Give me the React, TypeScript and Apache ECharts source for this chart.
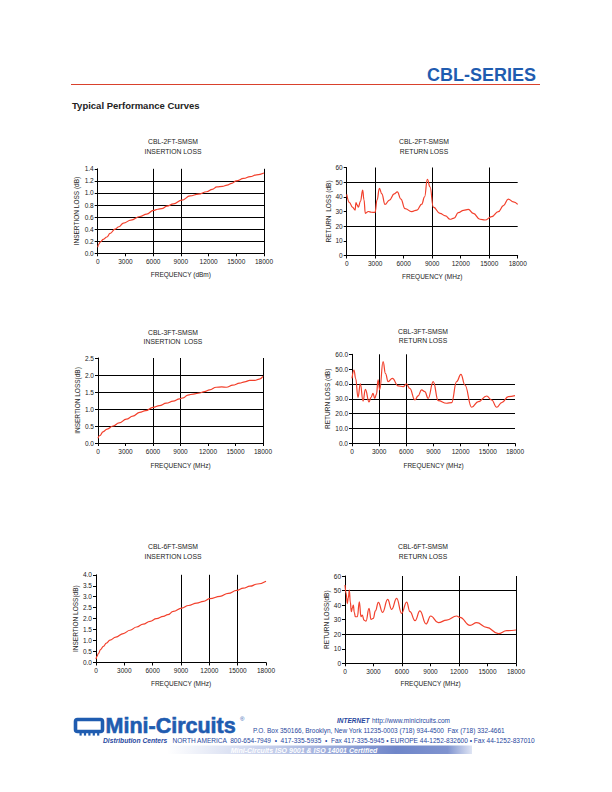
import React, { useEffect, useRef } from "react";
import * as echarts from "echarts";

const FONT = "'Liberation Sans', Arial, Helvetica, sans-serif";
const RED = "#f2402c";
const BLUE = "#1f5cb0";
const TXT = "#222";

// ---------- data ----------
// CBL-2FT insertion loss
const il2Freq = [0, 100, 300, 600, 1000, 1340, 1880, 2300, 2780, 3600, 4580, 5300, 6030, 6500, 6930, 7500, 8200, 9100, 10000, 10900, 11800, 12400, 12900, 13500, 14000, 14500, 15000, 15800, 16500, 17200, 18000];
const il2Loss = [0.10, 0.15, 0.19, 0.23, 0.27, 0.33, 0.40, 0.44, 0.50, 0.55, 0.61, 0.65, 0.71, 0.73, 0.74, 0.78, 0.82, 0.88, 0.95, 0.98, 1.02, 1.06, 1.10, 1.11, 1.13, 1.16, 1.20, 1.24, 1.27, 1.30, 1.33];

// CBL-2FT return loss
const rl2Freq = [0, 300, 600, 880, 980, 1100, 1230, 1450, 1680, 1820, 1960, 2280, 2600, 2980, 3200, 3440, 3700, 4030, 4500, 5000, 5330, 5700, 6140, 6840, 7400, 7900, 8200, 8490, 8770, 9120, 9820, 10400, 10880, 11300, 11750, 12300, 12800, 13330, 14030, 14560, 15260, 15960, 16500, 17000, 17540, 18000];
const rl2Loss = [41.6, 36, 33, 31, 36, 34.5, 33, 37, 44.6, 38, 28.7, 30, 29.5, 29.4, 38, 45.7, 42, 34.8, 37.8, 42, 43.4, 38.5, 32, 29.9, 31, 35, 40, 52, 46.8, 33, 28.7, 27, 24.7, 25.5, 29.2, 30.8, 31.4, 28.7, 24.7, 24.2, 26.5, 29.9, 34, 38.5, 36.6, 34.8];

// CBL-3FT insertion loss
const il3Freq = [0, 200, 545, 1000, 1640, 2300, 3090, 3800, 4545, 5200, 6000, 6700, 7450, 8200, 8900, 9300, 9800, 10400, 11090, 11600, 12180, 12900, 13500, 14000, 14700, 15450, 16000, 16550, 17100, 17600, 18000];
const il3Loss = [0.14, 0.22, 0.33, 0.41, 0.50, 0.59, 0.70, 0.79, 0.90, 0.95, 1.05, 1.10, 1.17, 1.23, 1.30, 1.33, 1.41, 1.44, 1.47, 1.51, 1.56, 1.64, 1.65, 1.64, 1.70, 1.76, 1.80, 1.84, 1.84, 1.88, 1.96];

// CBL-3FT return loss
const rl3Freq = [0, 220, 400, 660, 920, 1220, 1480, 1880, 2100, 2320, 2510, 2700, 2880, 3060, 3430, 3700, 3990, 4460, 5090, 5650, 6015, 6380, 6940, 7300, 7680, 8040, 8410, 8970, 9520, 10440, 11000, 11550, 12030, 12470, 13210, 13950, 14870, 15420, 15980, 16530, 17270, 18000];
const rl3Loss = [43.8, 49.4, 43.8, 31, 40, 28.5, 36.4, 27.9, 31, 33.7, 30.3, 33, 42.7, 36, 55, 47, 41.6, 43.8, 38.7, 38.2, 40, 37, 29.2, 32, 36, 34.8, 30.3, 41.6, 28.8, 27, 27.4, 41.6, 46.5, 39.3, 24.3, 28.1, 31.9, 29.2, 24.3, 27.4, 31.5, 32.1];

// CBL-6FT insertion loss
const il6Freq = [0, 100, 250, 500, 780, 1100, 1480, 2100, 2890, 3600, 4300, 5000, 5720, 6400, 7130, 7600, 8190, 9070, 9800, 10660, 11370, 12070, 13130, 14000, 14900, 15600, 16300, 17100, 18000];
const il6Loss = [0.15, 0.28, 0.41, 0.60, 0.74, 0.88, 1.02, 1.16, 1.32, 1.47, 1.62, 1.75, 1.88, 2.00, 2.10, 2.18, 2.33, 2.48, 2.60, 2.71, 2.79, 2.91, 3.02, 3.15, 3.29, 3.39, 3.48, 3.58, 3.71];

// CBL-6FT return loss
const rl6Freq = [0, 120, 245, 350, 456, 560, 667, 770, 877, 980, 1090, 1300, 1510, 1680, 1820, 2000, 2210, 2530, 2740, 2980, 3200, 3510, 3960, 4490, 4910, 5440, 5960, 6490, 6840, 7370, 7890, 8530, 9020, 9820, 10700, 11750, 12100, 13160, 13860, 14910, 16140, 17020, 18000];
const rl6Loss = [53.8, 48, 41, 45, 50.3, 42, 35.5, 38, 40, 35, 32, 32, 42.3, 32, 33.2, 29.7, 29, 37.8, 30.2, 30.9, 36, 41.9, 35, 43.9, 37, 44.6, 34.3, 42.1, 35.5, 29.3, 36, 27, 32.5, 27.9, 29.7, 32.5, 31.6, 26.1, 27.9, 24.7, 20.4, 22.4, 22.9];

// chart texts
const titles = [
  ["CBL-2FT-SMSM", "INSERTION LOSS"],
  ["CBL-2FT-SMSM", "RETURN LOSS"],
  ["CBL-3FT-SMSM", "INSERTION  LOSS"],
  ["CBL-3FT-SMSM", "RETURN LOSS"],
  ["CBL-6FT-SMSM", "INSERTION LOSS"],
  ["CBL-6FT-SMSM", "RETURN LOSS"],
];
const xNames = ["FREQUENCY (dBm)", "FREQUENCY (MHz)", "FREQUENCY (MHz)", "FREQUENCY (MHz)", "FREQUENCY (MHz)", "FREQUENCY (MHz)"];
const yNames = ["INSERTION LOSS (dB)", "RETURN  LOSS (dB)", "INSERTION LOSS(dB)", "RETURN LOSS (dB)", "INSERTION LOSS(dB)", "RETURN LOSS(dB)"];
const yMax = [1.4, 60, 2.5, 60, 4.0, 60];
const yStep = [0.2, 10, 0.5, 10, 0.5, 10];
const yDecimals = [1, 0, 1, 1, 1, 0];
const xGridValues = [[6000, 9000, 18000], [3000, 9000, 15000], [6000, 9000, 18000], [3000, 6000], [9000, 12000, 15000], [6000, 12000, 18000]];
const yGridValues = [[0.2, 0.4, 0.6, 0.8, 1.0, 1.2], [20, 50], [0.5, 1.0, 1.5, 2.0], [10, 20, 30, 40], [], [20, 50]];
const seriesFreq = [il2Freq, rl2Freq, il3Freq, rl3Freq, il6Freq, rl6Freq];
const seriesVal = [il2Loss, rl2Loss, il3Loss, rl3Loss, il6Loss, rl6Loss];

// ---------- layout ----------
const grids = [
  { left: 97.7, top: 168.8, width: 166.3, height: 84.5 },
  { left: 346.7, top: 167.5, width: 171, height: 88 },
  { left: 98, top: 358, width: 165, height: 85 },
  { left: 352, top: 354.3, width: 163, height: 89 },
  { left: 96, top: 574.8, width: 170, height: 87.7 },
  { left: 345, top: 576, width: 171, height: 87.3 },
];
const titlePos = [
  { x: 173, y1: 141.7, y2: 151 },
  { x: 424, y1: 141.7, y2: 151 },
  { x: 173, y1: 332.5, y2: 341 },
  { x: 423, y1: 331.7, y2: 340.7 },
  { x: 173, y1: 546.7, y2: 556 },
  { x: 423, y1: 546.7, y2: 556.5 },
];
const xNameGap = [18, 17, 18.5, 18.5, 17, 17];
const yNameGap = [17.5, 15, 17.5, 19.5, 16, 15];

export default function App() {
  const ref = useRef<HTMLDivElement>(null);

  useEffect(() => {
    if (!ref.current) return;
    const chart = echarts.init(ref.current, null, { renderer: "svg" });

    const labelStyle = { fontSize: 6.5, color: TXT, fontFamily: FONT };

    const xAxis = grids.map((_, i) => ({
      type: "value",
      gridIndex: i,
      min: 0,
      max: 18000,
      interval: 3000,
      name: xNames[i],
      nameLocation: "middle",
      nameGap: xNameGap[i],
      nameTextStyle: { ...labelStyle },
      axisLine: { show: true, onZero: false, lineStyle: { color: "#000", width: 1 } },
      axisTick: { show: true, length: 3, lineStyle: { color: "#000", width: 1 } },
      axisLabel: { ...labelStyle, margin: 4.5, showMinLabel: true, showMaxLabel: true, formatter: (v: number) => String(v) },
      splitLine: { show: false },
    }));

    const yAxis = grids.map((_, i) => ({
      type: "value",
      gridIndex: i,
      min: 0,
      max: yMax[i],
      interval: yStep[i],
      name: yNames[i],
      nameLocation: "middle",
      nameRotate: 90,
      nameGap: yNameGap[i],
      nameTextStyle: { ...labelStyle },
      axisLine: { show: true, onZero: false, lineStyle: { color: "#000", width: 1 } },
      axisTick: { show: true, length: 3, lineStyle: { color: "#000", width: 1 } },
      axisLabel: {
        ...labelStyle,
        margin: 4,
        formatter: (v: number) => v.toFixed(yDecimals[i]),
      },
      splitLine: { show: false },
    }));

    const series = grids.map((_, i) => ({
      type: "line",
      xAxisIndex: i,
      yAxisIndex: i,
      data: seriesFreq[i].map((f, k) => [f, seriesVal[i][k]]),
      showSymbol: false,
      smooth: 0.45,
      smoothMonotone: "x",
      silent: true,
      z: 6,
      lineStyle: { color: RED, width: 1.2 },
      emphasis: { disabled: true },
      markLine: {
        silent: true,
        z: 1,
        symbol: ["none", "none"],
        label: { show: false },
        emphasis: { disabled: true },
        lineStyle: { color: "#000", width: 1, type: "solid" },
        data: [
          ...xGridValues[i].map((v) => ({ xAxis: v })),
          ...yGridValues[i].map((v) => ({ yAxis: v })),
        ],
      },
    }));

    const titleGraphics: any[] = [];
    titles.forEach((t, i) => {
      titleGraphics.push({
        type: "text",
        x: titlePos[i].x,
        y: titlePos[i].y1,
        silent: true,
        style: { text: t[0], textAlign: "center", textVerticalAlign: "middle", fontSize: 6.8, fontFamily: FONT, fill: TXT },
      });
      titleGraphics.push({
        type: "text",
        x: titlePos[i].x,
        y: titlePos[i].y2,
        silent: true,
        style: { text: t[1], textAlign: "center", textVerticalAlign: "middle", fontSize: 6.8, fontFamily: FONT, fill: TXT },
      });
    });

    const footerBlue = "#27479e";
    const ftext = (text: string, x: number, y: number, size: number, extra: any = {}) => ({
      type: "text",
      x,
      y,
      silent: true,
      style: { text, textAlign: "left", textVerticalAlign: "middle", fontSize: size, fontFamily: FONT, fill: footerBlue, ...extra },
    });

    const graphics: any[] = [
      // header
      {
        type: "text",
        x: 536,
        y: 75,
        silent: true,
        style: { text: "CBL-SERIES", textAlign: "right", textVerticalAlign: "middle", fontSize: 18, fontWeight: "bold", fontFamily: FONT, fill: BLUE },
      },
      {
        type: "line",
        silent: true,
        shape: { x1: 71, y1: 84.5, x2: 540, y2: 84.5 },
        style: { stroke: "#d9412c", lineWidth: 1.2 },
      },
      {
        type: "text",
        x: 72,
        y: 105.5,
        silent: true,
        style: { text: "Typical Performance Curves", textAlign: "left", textVerticalAlign: "middle", fontSize: 9.5, fontWeight: "bold", fontFamily: FONT, fill: TXT },
      },
      ...titleGraphics,
      // footer logo
      {
        type: "rect",
        silent: true,
        shape: { x: 75.5, y: 719.5, width: 27, height: 12, r: 2 },
        style: { fill: "none", stroke: BLUE, lineWidth: 3.6 },
      },
      ...[0, 1, 2, 3, 4].map((k) => ({
        type: "rect",
        silent: true,
        shape: { x: 79.5 + k * 4.4, y: 733, width: 2.2, height: 2.6 },
        style: { fill: BLUE },
      })),
      {
        type: "text",
        x: 105.5,
        y: 725.8,
        silent: true,
        style: { text: "Mini-Circuits", textAlign: "left", textVerticalAlign: "middle", fontSize: 21.5, fontWeight: "bold", fontFamily: FONT, fill: BLUE, stroke: BLUE, lineWidth: 0.6 },
      },
      {
        type: "text",
        x: 240,
        y: 718.5,
        silent: true,
        style: { text: "®", textAlign: "left", textVerticalAlign: "middle", fontSize: 6, fontFamily: FONT, fill: BLUE },
      },
      ftext("INTERNET", 337, 720.5, 6.5, { fontStyle: "italic", fontWeight: "bold" }),
      ftext("http://www.minicircuits.com", 372, 720.5, 6.5),
      ftext("P.O. Box 350166, Brooklyn, New York 11235-0003 (718) 934-4500  Fax (718) 332-4661", 253, 730.5, 6.5),
      ftext("Distribution Centers", 103, 740.5, 6.7, { fontStyle: "italic", fontWeight: "bold" }),
      ftext("NORTH AMERICA  800-654-7949  •  417-335-5935  •  Fax 417-335-5945 • EUROPE 44-1252-832600 • Fax 44-1252-837010", 172.5, 740.5, 6.55),
      {
        type: "rect",
        silent: true,
        shape: { x: 167, y: 745.5, width: 305, height: 8.5 },
        style: {
          fill: new echarts.graphic.LinearGradient(0, 0, 1, 0, [
            { offset: 0, color: "#ffffff" },
            { offset: 0.35, color: "#c3cdea" },
            { offset: 0.75, color: "#6f86c9" },
            { offset: 0.92, color: "#7f93cf" },
            { offset: 1, color: "#dfe5f4" },
          ]),
        },
      },
      {
        type: "text",
        x: 304,
        y: 750,
        silent: true,
        style: {
          text: "Mini-Circuits ISO 9001 & ISO 14001 Certified",
          textAlign: "center",
          textVerticalAlign: "middle",
          fontSize: 7,
          fontStyle: "italic",
          fontWeight: "bold",
          fontFamily: FONT,
          fill: "#ffffff",
        },
      },
    ];

    chart.setOption({
      animation: false,
      backgroundColor: "#ffffff",
      grid: grids.map((g) => ({ ...g, containLabel: false })),
      xAxis,
      yAxis,
      series,
      graphic: { elements: graphics },
    });

    return () => chart.dispose();
  }, []);

  return (
    <div
      ref={ref}
      style={{ position: "absolute", left: 0, top: 0, width: 612, height: 792 }}
    />
  );
}
